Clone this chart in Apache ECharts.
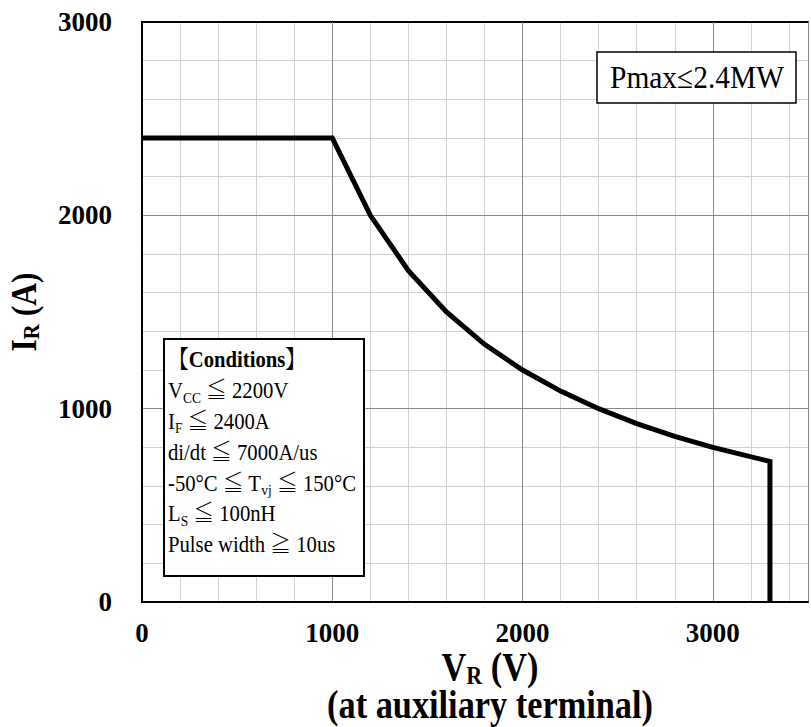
<!DOCTYPE html>
<html>
<head>
<meta charset="utf-8">
<script src="https://cdn.jsdelivr.net/npm/echarts@6/dist/echarts.min.js"></script>
<style>html,body{margin:0;padding:0;background:#fff;}#c{width:811px;height:727px;}</style>
</head>
<body>
<div id="c"></div>
<script>
// Data
const voltage = [0, 1000, 1200, 1400, 1600, 1800, 2000, 2200, 2400, 2600, 2800, 3000, 3300, 3300];
const current = [2400, 2400, 2000, 1714, 1500, 1333, 1200, 1091, 1000, 923, 857, 800, 727, 0];
const xTicks = [0, 1000, 2000, 3000];
const yTicks = [0, 1000, 2000, 3000];
const pmaxText = 'Pmax≤2.4MW';
const conditionLines = [
  '{b|【Conditions】}',
  '{n|V}{s|CC}{n| ≦ 2200V}',
  '{n|I}{s|F}{n| ≦ 2400A}',
  '{n|di/dt ≦ 7000A/us}',
  '{n|-50°C ≦ T}{s|vj}{n| ≦ 150°C}',
  '{n|L}{s|S}{n| ≦ 100nH}',
  '{n|Pulse width ≧ 10us}'
];

const SERIF = 'Liberation Serif, Noto Serif CJK JP, Noto Sans CJK JP, serif';
const chart = echarts.init(document.getElementById('c'), null, {renderer: 'svg'});
const majorColor = '#8a8a8a';
const minorColor = '#cfd2d4';

const richN = {fontFamily: SERIF, fontSize: 23, color: '#000', lineHeight: 28};
const richS = {fontFamily: SERIF, fontSize: 15, color: '#000', lineHeight: 15, verticalAlign: 'bottom'};
const richB = {fontFamily: SERIF, fontSize: 23, fontWeight: 'bold', color: '#000', lineHeight: 28};

const condGraphics = conditionLines.map((t, i) => ({
  type: 'text', z: 12,
  x: 168, y: 360 + i * 30.8, scaleX: 0.9,
  style: {text: t, verticalAlign: 'middle', align: 'left',
    rich: {n: richN, s: richS, b: richB}}
}));

chart.setOption({
  animation: false,
  backgroundColor: '#fff',
  grid: {left: 142, top: 22, width: 672, height: 580, containLabel: false},
  xAxis: [
    {type: 'value', min: 0, max: 3500, interval: 1000, position: 'bottom', z: 2,
      axisLine: {show: true, onZero: false, lineStyle: {color: '#000', width: 2}},
      axisTick: {show: false},
      splitLine: {show: true, showMinLine: false, lineStyle: {color: majorColor, width: 1}},
      axisLabel: {show: true, margin: 17, color: '#000', fontSize: 27, fontWeight: 'bold', fontFamily: SERIF,
        formatter: v => (xTicks.indexOf(v) >= 0 ? String(v) : '')}
    },
    {type: 'value', min: 0, max: 3500, interval: 200, position: 'top', z: 1,
      axisLine: {show: true, onZero: false, lineStyle: {color: '#000', width: 2}},
      axisTick: {show: false}, axisLabel: {show: false},
      splitLine: {show: true, showMinLine: false, lineStyle: {color: minorColor, width: 1}}
    }
  ],
  yAxis: [
    {type: 'value', min: 0, max: 3000, interval: 1000, position: 'left', z: 2,
      axisLine: {show: true, onZero: false, lineStyle: {color: '#000', width: 2}},
      axisTick: {show: false},
      splitLine: {show: true, showMinLine: false, showMaxLine: false, lineStyle: {color: majorColor, width: 1}},
      axisLabel: {show: true, margin: 30, color: '#000', fontSize: 27, fontWeight: 'bold', fontFamily: SERIF,
        formatter: v => (yTicks.indexOf(v) >= 0 ? String(v) : '')}
    },
    {type: 'value', min: 0, max: 3000, interval: 200, position: 'right', z: 1,
      axisLine: {show: false}, axisTick: {show: false}, axisLabel: {show: false},
      splitLine: {show: true, showMinLine: false, showMaxLine: false, lineStyle: {color: minorColor, width: 1}}
    }
  ],
  series: [{
    type: 'line', xAxisIndex: 0, yAxisIndex: 0, z: 5,
    data: voltage.map((v, i) => [v, current[i]]),
    symbol: 'none', clip: false,
    lineStyle: {color: '#000', width: 5, join: 'miter'}
  }],
  graphic: [
    // Pmax box
    {type: 'rect', z: 10, shape: {x: 597, y: 52, width: 199, height: 51},
      style: {fill: '#fff', stroke: '#000', lineWidth: 1.5}},
    {type: 'text', z: 11, x: 697, y: 78, scaleX: 0.92,
      style: {text: pmaxText, align: 'center', verticalAlign: 'middle', fontFamily: SERIF, fontSize: 32, fill: '#000'}},
    // Conditions box
    {type: 'rect', z: 10, shape: {x: 164, y: 339, width: 200, height: 237},
      style: {fill: '#fff', stroke: '#000', lineWidth: 2}},
    ...condGraphics,
    // Y axis title
    {type: 'text', z: 11, x: 24, y: 312, rotation: Math.PI / 2, scaleX: 0.9,
      style: {text: '{a|I}{s|R}{a| (A)}', align: 'center', verticalAlign: 'middle',
        rich: {a: {fontFamily: SERIF, fontSize: 35, fontWeight: 'bold', color: '#000', lineHeight: 38},
               s: {fontFamily: SERIF, fontSize: 23, fontWeight: 'bold', color: '#000', lineHeight: 23, verticalAlign: 'bottom'}}}},
    // X axis title
    {type: 'text', z: 11, x: 490, y: 667, scaleX: 0.88,
      style: {text: '{a|V}{s|R}{a| (V)}', align: 'center', verticalAlign: 'middle',
        rich: {a: {fontFamily: SERIF, fontSize: 39, fontWeight: 'bold', color: '#000', lineHeight: 42},
               s: {fontFamily: SERIF, fontSize: 25, fontWeight: 'bold', color: '#000', lineHeight: 25, verticalAlign: 'bottom'}}}},
    {type: 'text', z: 11, x: 490, y: 705, scaleX: 0.88,
      style: {text: '(at auxiliary terminal)', align: 'center', verticalAlign: 'middle',
        fontFamily: SERIF, fontSize: 39, fontWeight: 'bold', fill: '#000'}}
  ]
});
</script>
</body>
</html>
